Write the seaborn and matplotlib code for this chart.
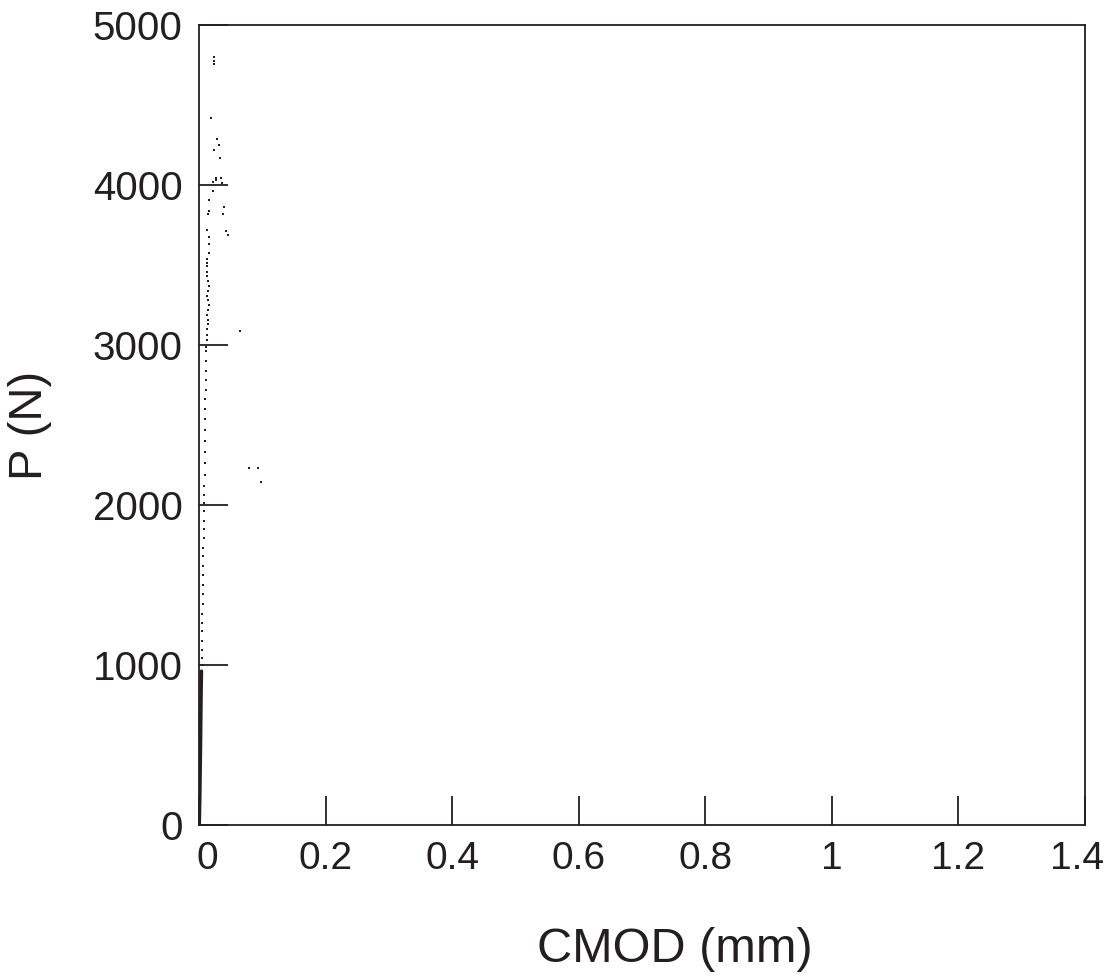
import matplotlib
matplotlib.use("Agg")
import matplotlib.pyplot as plt
import matplotlib.transforms as mtransforms
import seaborn as sns
import pandas as pd

sns.set_theme(style="white")
plt.rcParams['font.family'] = ['Liberation Sans', 'DejaVu Sans']

ink = '#231f20'

# initial (solid) part of the curve
cmod_line = [0.0, 0.0008, 0.0015, 0.002, 0.0025, 0.003, 0.0035]
p_line = [0, 150, 350, 500, 680, 850, 960]

# scattered readings along the rest of the curve
cmod_dots = [0.004, 0.004, 0.0045, 0.0045, 0.005, 0.005, 0.005, 0.0055, 0.0055, 0.006,
             0.006, 0.006, 0.0065, 0.0065, 0.007, 0.007, 0.0075, 0.0075, 0.008, 0.008,
             0.008, 0.0085, 0.0085, 0.009, 0.009, 0.009, 0.0095, 0.0095, 0.0095, 0.01,
             0.01, 0.01, 0.0105, 0.011, 0.011, 0.012, 0.012, 0.013, 0.0135, 0.014,
             0.013, 0.014, 0.015, 0.014, 0.013, 0.014, 0.015, 0.014, 0.013, 0.013,
             0.013, 0.012, 0.013, 0.016, 0.015, 0.015, 0.013, 0.014, 0.016, 0.015,
             0.021, 0.022, 0.026, 0.027, 0.035, 0.036, 0.039, 0.038, 0.043, 0.046,
             0.033, 0.031, 0.023, 0.028, 0.019, 0.024, 0.024, 0.024,
             0.065, 0.079, 0.093, 0.097]
p_dots = [1000, 1040, 1090, 1150, 1210, 1260, 1320, 1380, 1440, 1500,
          1560, 1620, 1680, 1730, 1790, 1850, 1900, 1960, 2010, 2060,
          2120, 2190, 2260, 2330, 2400, 2470, 2540, 2600, 2660, 2720,
          2780, 2840, 2900, 2960, 2990, 3030, 3060, 3100, 3130, 3160,
          3190, 3220, 3250, 3280, 3310, 3340, 3370, 3400, 3430, 3460,
          3497, 3512, 3537, 3573, 3635, 3677, 3719, 3819, 3840, 3906,
          3964, 4020, 4046, 4035, 4046, 4014, 3864, 3823, 3712, 3687,
          4169, 4250, 4219, 4290, 4419, 4760, 4780, 4800,
          3088, 2229, 2233, 2146]

xticks = [0, 0.2, 0.4, 0.6, 0.8, 1.0, 1.2, 1.4]
xtick_labels = ['0', '0.2', '0.4', '0.6', '0.8', '1', '1.2', '1.4']
yticks = [0, 1000, 2000, 3000, 4000, 5000]

df_line = pd.DataFrame({'CMOD': cmod_line, 'P': p_line})
df_dots = pd.DataFrame({'CMOD': cmod_dots, 'P': p_dots})

fig, ax = plt.subplots(figsize=(11.07, 9.77), dpi=100)
fig.subplots_adjust(left=0.18, right=0.98, top=0.974, bottom=0.156)

sns.lineplot(data=df_line, x='CMOD', y='P', ax=ax, color=ink, linewidth=2.5, sort=False)
sns.scatterplot(data=df_dots, x='CMOD', y='P', ax=ax, color=ink, marker='s', s=2.5,
                linewidth=0)

ax.set_xlim(0, 1.4)
ax.set_ylim(0, 5000)
ax.set_xticks(xticks)
ax.set_xticklabels(xtick_labels)
ax.set_yticks(yticks)
ax.tick_params(direction='in', length=21, width=1.3, color=ink, labelcolor=ink,
               labelsize=29, pad=12, top=False, right=False, bottom=True, left=True)
ax.tick_params(axis='x', labelsize=28)

# nudge the end labels inward a little, as in the original
shifts = {0: 8, len(xtick_labels) - 1: -8}
for i, lab in enumerate(ax.get_xticklabels()):
    if i in shifts:
        lab.set_transform(lab.get_transform() +
                          mtransforms.ScaledTranslation(shifts[i] / 100, 0, fig.dpi_scale_trans))

for sp in ax.spines.values():
    sp.set_color(ink)
    sp.set_linewidth(1.3)

ax.set_xlabel('CMOD (mm)', fontsize=35, color=ink)
ax.set_ylabel('P (N)', fontsize=34, color=ink)
ax.xaxis.set_label_coords(0.537, -0.128)
ax.yaxis.set_label_coords(-0.166, 0.5)

fig.savefig('out.png', dpi=100)
